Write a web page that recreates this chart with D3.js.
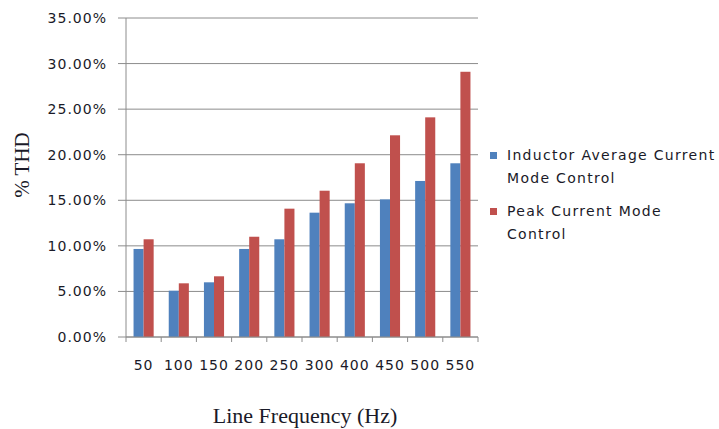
<!DOCTYPE html>
<html>
<head>
<meta charset="utf-8">
<title>THD vs Line Frequency</title>
<script src="https://d3js.org/d3.v7.min.js"></script>
<style>
  body { margin: 0; background: #fff; }
  svg text { fill: #1a1a28; }
  .tick text, .legend text { font-family: "DejaVu Sans", Verdana, sans-serif; font-size: 14px; letter-spacing: 1px; }
  .legend text { letter-spacing: 1.3px; }
  .title { font-family: "Liberation Serif", "Times New Roman", serif; }
</style>
</head>
<body>
<svg class="chart" width="719" height="429"></svg>
<script>
// data
const frequencies = ["50", "100", "150", "200", "250", "300", "400", "450", "500", "550"];
const avgCurrentThd = [9.66, 5.08, 6.0, 9.66, 10.72, 13.64, 14.67, 15.1, 17.12, 19.06];
const peakCurrentThd = [10.72, 5.89, 6.66, 11.0, 14.08, 16.05, 19.06, 22.13, 24.1, 29.1];
const seriesNames = ["Inductor Average Current Mode Control", "Peak Current Mode Control"];
const seriesColors = ["#4f81bd", "#c0504d"];
const yTicks = [0, 5, 10, 15, 20, 25, 30, 35];

const svg = d3.select("svg.chart");
const plotLeft = 126, plotRight = 478, plotTop = 18, plotBottom = 337;

const x = d3.scaleBand().domain(frequencies).range([plotLeft, plotRight]);
const inner = d3.scaleBand().domain([0, 1]).range([0, x.bandwidth()]).paddingOuter(0.75);
const y = d3.scaleLinear().domain([0, 35]).range([plotBottom, plotTop]);

// gridlines + left ticks
svg.append("g")
  .selectAll("line")
  .data(yTicks)
  .enter().append("line")
    .attr("x1", plotLeft - 8).attr("x2", plotRight)
    .attr("y1", d => y(d)).attr("y2", d => y(d))
    .attr("stroke", "#8c8c8c").attr("stroke-width", 1);

// y tick labels
svg.append("g").attr("class", "tick")
  .selectAll("text")
  .data(yTicks)
  .enter().append("text")
    .attr("x", 107).attr("y", d => y(d) + 5)
    .attr("text-anchor", "end")
    .text(d => d3.format(".2f")(d) + "%");

// bars
const rows = frequencies.map((f, i) => ({ f: f, vals: [avgCurrentThd[i], peakCurrentThd[i]] }));
const groups = svg.append("g").selectAll("g")
  .data(rows)
  .enter().append("g")
    .attr("transform", d => "translate(" + x(d.f) + ",0)");
groups.selectAll("rect")
  .data(d => d.vals.map((v, k) => ({ k: k, v: v })))
  .enter().append("rect")
    .attr("x", d => inner(d.k))
    .attr("width", inner.bandwidth())
    .attr("y", d => y(d.v))
    .attr("height", d => y(0) - y(d.v))
    .attr("fill", d => seriesColors[d.k]);

// axes lines
svg.append("line")
  .attr("x1", plotLeft).attr("x2", plotLeft).attr("y1", plotTop).attr("y2", plotBottom)
  .attr("stroke", "#8c8c8c");
svg.append("line")
  .attr("x1", plotLeft).attr("x2", plotRight).attr("y1", plotBottom).attr("y2", plotBottom)
  .attr("stroke", "#8c8c8c");
svg.append("g")
  .selectAll("line")
  .data(frequencies.concat(["end"]))
  .enter().append("line")
    .attr("x1", d => d === "end" ? plotRight : x(d))
    .attr("x2", d => d === "end" ? plotRight : x(d))
    .attr("y1", plotBottom).attr("y2", plotBottom + 5)
    .attr("stroke", "#8c8c8c");

// x tick labels
svg.append("g").attr("class", "tick")
  .selectAll("text")
  .data(frequencies)
  .enter().append("text")
    .attr("x", d => x(d) + x.bandwidth() / 2)
    .attr("y", 370)
    .attr("text-anchor", "middle")
    .text(d => d);

// axis titles
svg.append("text").attr("class", "title")
  .attr("x", 305).attr("y", 423)
  .attr("text-anchor", "middle")
  .style("font-size", "22px")
  .text("Line Frequency (Hz)");
svg.append("text").attr("class", "title")
  .attr("transform", "translate(29,165) rotate(-90)")
  .attr("text-anchor", "middle")
  .style("font-size", "21px")
  .text("% THD");

// legend
const legendLines = [["Inductor Average Current", "Mode Control"], ["Peak Current Mode", "Control"]];
const legend = svg.append("g").attr("class", "legend");
const legendY = [160, 216];
legendLines.forEach((lines, i) => {
  legend.append("rect")
    .attr("x", 490).attr("y", legendY[i] - 8)
    .attr("width", 7).attr("height", 7)
    .attr("fill", seriesColors[i]);
  lines.forEach((t, j) => {
    legend.append("text")
      .attr("x", 507).attr("y", legendY[i] + j * 23)
      .text(t);
  });
});
</script>
</body>
</html>
